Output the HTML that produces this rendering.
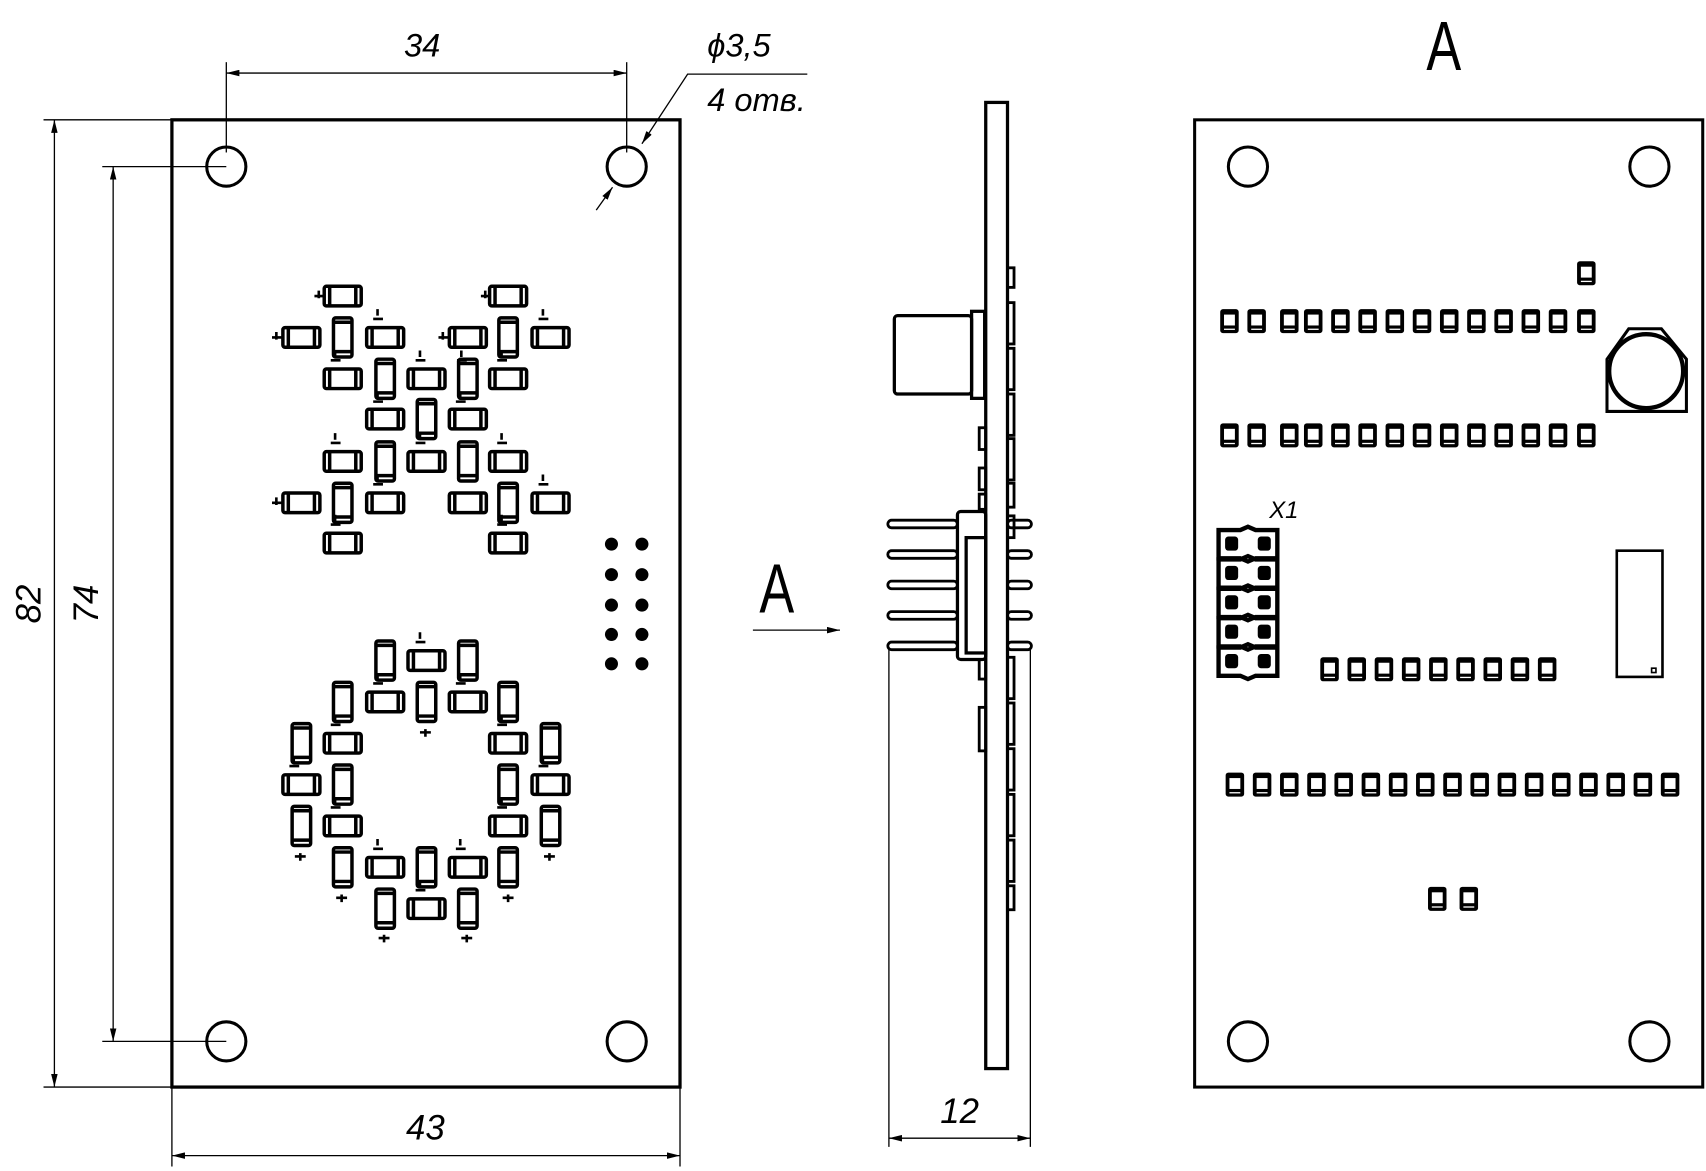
<!DOCTYPE html>
<html><head><meta charset="utf-8"><style>html,body{margin:0;padding:0;background:#fff}svg{display:block}text{font-family:"Liberation Sans","DejaVu Sans",sans-serif;font-style:italic;fill:#000}</style></head><body>
<svg width="1706" height="1171" viewBox="0 0 1568 1076" xmlns="http://www.w3.org/2000/svg">
<defs>
<g id="H" fill="none" stroke="#000" stroke-width="3.2"><rect x="-17" y="-9" width="34" height="18" rx="2"/><line x1="-12" y1="-9" x2="-12" y2="9"/><line x1="12" y1="-9" x2="12" y2="9"/></g>
<g id="V" fill="none" stroke="#000" stroke-width="3.2"><rect x="-8.5" y="-18" width="17" height="36" rx="2"/><line x1="-8.5" y1="-14" x2="8.5" y2="-14"/><line x1="-8.5" y1="13" x2="8.5" y2="13"/></g>
<g id="P"><rect x="-8.5" y="-11" width="17" height="22" rx="2.5" fill="#000"/><rect x="-5" y="-6" width="10" height="10" fill="#fff"/><line x1="-5" y1="7.5" x2="5" y2="7.5" stroke="#fff" stroke-width="1.2"/></g>
<g id="J"><path d="M-27,-13 h20 l7,-3 l7,3 h20 v26 h-20 l-7,3 l-7,-3 h-20 z" fill="none" stroke="#000" stroke-width="4"/><rect x="-21" y="-7" width="12" height="13" rx="3" fill="#000"/><rect x="9" y="-7" width="12" height="13" rx="3" fill="#000"/></g>
<marker id="ar" viewBox="0 0 12 6" refX="12" refY="3" markerWidth="12" markerHeight="6" orient="auto-start-reverse" markerUnits="userSpaceOnUse"><path d="M0,0 L12,3 L0,6 z" fill="#000"/></marker>
</defs>
<g fill="none" stroke="#000">
<rect x="158" y="110" width="467" height="889" stroke-width="3"/>
<g stroke-width="2.8"><circle cx="208" cy="153" r="18"/><circle cx="576" cy="153" r="18"/><circle cx="208" cy="957" r="18"/><circle cx="576" cy="957" r="18"/></g>
<g stroke-width="1.2">
<line x1="208" y1="57" x2="208" y2="140"/><line x1="576" y1="57" x2="576" y2="140"/>
<line x1="208" y1="67" x2="576" y2="67" marker-start="url(#ar)" marker-end="url(#ar)"/>
<line x1="40" y1="110" x2="158" y2="110"/><line x1="40" y1="999" x2="158" y2="999"/>
<line x1="50" y1="110" x2="50" y2="999" marker-start="url(#ar)" marker-end="url(#ar)"/>
<line x1="94" y1="153" x2="208" y2="153"/><line x1="94" y1="957" x2="208" y2="957"/>
<line x1="104" y1="153" x2="104" y2="957" marker-start="url(#ar)" marker-end="url(#ar)"/>
<line x1="158" y1="999" x2="158" y2="1072"/><line x1="625" y1="999" x2="625" y2="1072"/>
<line x1="158" y1="1062" x2="625" y2="1062" marker-start="url(#ar)" marker-end="url(#ar)"/>
<polyline points="742,68 632,68 590,132" marker-end="url(#ar)"/>
<line x1="548" y1="193" x2="563" y2="172" marker-end="url(#ar)"/>
</g>
</g>
<g fill="#000">
<circle cx="562" cy="500" r="6"/><circle cx="590" cy="500" r="6"/>
<circle cx="562" cy="528" r="6"/><circle cx="590" cy="528" r="6"/>
<circle cx="562" cy="556" r="6"/><circle cx="590" cy="556" r="6"/>
<circle cx="562" cy="583" r="6"/><circle cx="590" cy="583" r="6"/>
<circle cx="562" cy="610" r="6"/><circle cx="590" cy="610" r="6"/>
</g>
<use href="#H" x="315" y="272"/><use href="#H" x="467" y="272"/>
<use href="#H" x="277" y="310"/><use href="#V" x="315" y="310"/><use href="#H" x="354" y="310"/><use href="#H" x="430" y="310"/><use href="#V" x="467" y="310"/><use href="#H" x="506" y="310"/>
<use href="#H" x="315" y="348"/><use href="#V" x="354" y="348"/><use href="#H" x="392" y="348"/><use href="#V" x="430" y="348"/><use href="#H" x="467" y="348"/>
<use href="#H" x="354" y="385"/><use href="#V" x="392" y="385"/><use href="#H" x="430" y="385"/>
<use href="#H" x="315" y="424"/><use href="#V" x="354" y="424"/><use href="#H" x="392" y="424"/><use href="#V" x="430" y="424"/><use href="#H" x="467" y="424"/>
<use href="#H" x="277" y="462"/><use href="#V" x="315" y="462"/><use href="#H" x="354" y="462"/><use href="#H" x="430" y="462"/><use href="#V" x="467" y="462"/><use href="#H" x="506" y="462"/>
<use href="#H" x="315" y="499"/><use href="#H" x="467" y="499"/>
<use href="#V" x="354" y="607"/><use href="#H" x="392" y="607"/><use href="#V" x="430" y="607"/>
<use href="#V" x="315" y="645"/><use href="#H" x="354" y="645"/><use href="#V" x="392" y="645"/><use href="#H" x="430" y="645"/><use href="#V" x="467" y="645"/>
<use href="#V" x="277" y="683"/><use href="#H" x="315" y="683"/><use href="#H" x="467" y="683"/><use href="#V" x="506" y="683"/>
<use href="#H" x="277" y="721"/><use href="#V" x="315" y="721"/><use href="#V" x="467" y="721"/><use href="#H" x="506" y="721"/>
<use href="#V" x="277" y="759"/><use href="#H" x="315" y="759"/><use href="#H" x="467" y="759"/><use href="#V" x="506" y="759"/>
<use href="#V" x="315" y="797"/><use href="#H" x="354" y="797"/><use href="#V" x="392" y="797"/><use href="#H" x="430" y="797"/><use href="#V" x="467" y="797"/>
<use href="#V" x="354" y="835"/><use href="#H" x="392" y="835"/><use href="#V" x="430" y="835"/>
<g stroke="#000" stroke-width="2.4">
<path d="M289,272h9M293,267v7M442,272h9M446,267v7M250,310h9M254,305v7M403,310h9M407,305v7M250,462h9M254,457v7"/>
<path d="M271,787h10M276,784v7M309,825h10M314,822v7M348,862h10M353,859v7M424,862h10M429,859v7M462,825h10M467,822v7M500,787h10M505,784v7M386,673h10M391,670v7"/>
<path d="M304,331h9M308,328v-6M343,293h9M347,290v-6M382,331h9M386,328v-6M420,331h9M424,328v-6M457,331h9M461,328v-6M495,293h9M499,290v-6M343,369h9M347,366v-6M419,369h9M423,366v-6M304,407h9M308,404v-6M382,407h9M386,404v-6M457,407h9M461,404v-6M343,445h9M347,442v-6M495,445h9M499,442v-6M304,482h9M308,479v-6M457,482h9M461,479v-6"/>
<path d="M382,590h9M386,587v-6M343,628h9M347,625v-6M419,628h9M423,625v-6M304,666h9M308,663v-6M457,666h9M461,663v-6M266,704h9M270,701v-6M495,704h9M499,701v-6M304,742h9M308,739v-6M457,742h9M461,739v-6M343,780h9M347,777v-6M419,780h9M423,777v-6M382,818h9M386,815v-6"/>
</g>
<g fill="none" stroke="#000" stroke-width="3">
<rect x="906" y="94" width="20" height="888"/>
<rect x="822" y="290" width="71" height="72" rx="3"/>
<rect x="893" y="286" width="12" height="80"/>
<g stroke-width="2.6">
<rect x="926" y="246" width="6" height="18"/>
<rect x="926" y="278" width="6" height="38"/><rect x="926" y="320" width="6" height="38"/><rect x="926" y="362" width="6" height="38"/><rect x="926" y="403" width="6" height="38"/><rect x="926" y="444" width="6" height="22"/>
<rect x="926" y="474" width="6" height="20"/><rect x="926" y="604" width="6" height="38"/><rect x="926" y="646" width="6" height="38"/><rect x="926" y="688" width="6" height="38"/><rect x="926" y="730" width="6" height="38"/><rect x="926" y="772" width="6" height="38"/><rect x="926" y="814" width="6" height="22"/>
<rect x="900" y="393" width="6" height="20"/><rect x="900" y="430" width="6" height="20"/><rect x="900" y="454" width="6" height="14"/>
<rect x="900" y="650" width="6" height="40"/><rect x="900" y="606" width="6" height="18"/>
</g>
<rect x="880" y="470" width="26" height="136" rx="3"/>
<rect x="888" y="494" width="18" height="106"/>
<g stroke-width="2.6"><rect x="816" y="478" width="64" height="7" rx="3.5"/><rect x="816" y="506" width="64" height="7" rx="3.5"/><rect x="816" y="534" width="64" height="7" rx="3.5"/><rect x="816" y="562" width="64" height="7" rx="3.5"/><rect x="816" y="590" width="64" height="7" rx="3.5"/>
<rect x="926" y="478" width="22" height="7" rx="3.5"/><rect x="926" y="506" width="22" height="7" rx="3.5"/><rect x="926" y="534" width="22" height="7" rx="3.5"/><rect x="926" y="562" width="22" height="7" rx="3.5"/><rect x="926" y="590" width="22" height="7" rx="3.5"/></g>
</g>
<g stroke="#000" stroke-width="1.2" fill="none">
<line x1="817" y1="597" x2="817" y2="1054"/><line x1="947" y1="597" x2="947" y2="1054"/>
<line x1="817" y1="1046" x2="947" y2="1046" marker-start="url(#ar)" marker-end="url(#ar)"/>
<line x1="692" y1="579" x2="772" y2="579" marker-end="url(#ar)"/>
</g>
<g fill="none" stroke="#000" stroke-width="2.8">
<rect x="1098" y="110" width="467" height="889"/>
<circle cx="1147" cy="153" r="18"/><circle cx="1516" cy="153" r="18"/><circle cx="1147" cy="957" r="18"/><circle cx="1516" cy="957" r="18"/>
<polygon points="1497,302 1527,302 1550,330 1550,378 1477,378 1477,330"/>
<circle cx="1513" cy="341" r="34" stroke-width="4"/>
<rect x="1486" y="506" width="42" height="116" stroke-width="2.4"/>
<rect x="1518" y="614" width="4" height="4" stroke-width="1.5"/>
</g>
<g>
<use href="#P" x="1458" y="251"/>
<use href="#P" x="1130" y="295"/><use href="#P" x="1155" y="295"/><use href="#P" x="1185" y="295"/><use href="#P" x="1207" y="295"/><use href="#P" x="1232" y="295"/><use href="#P" x="1257" y="295"/><use href="#P" x="1282" y="295"/><use href="#P" x="1307" y="295"/><use href="#P" x="1332" y="295"/><use href="#P" x="1357" y="295"/><use href="#P" x="1382" y="295"/><use href="#P" x="1407" y="295"/><use href="#P" x="1432" y="295"/><use href="#P" x="1458" y="295"/>
<use href="#P" x="1130" y="400"/><use href="#P" x="1155" y="400"/><use href="#P" x="1185" y="400"/><use href="#P" x="1207" y="400"/><use href="#P" x="1232" y="400"/><use href="#P" x="1257" y="400"/><use href="#P" x="1282" y="400"/><use href="#P" x="1307" y="400"/><use href="#P" x="1332" y="400"/><use href="#P" x="1357" y="400"/><use href="#P" x="1382" y="400"/><use href="#P" x="1407" y="400"/><use href="#P" x="1432" y="400"/><use href="#P" x="1458" y="400"/>
<use href="#P" x="1222" y="615"/><use href="#P" x="1247" y="615"/><use href="#P" x="1272" y="615"/><use href="#P" x="1297" y="615"/><use href="#P" x="1322" y="615"/><use href="#P" x="1347" y="615"/><use href="#P" x="1372" y="615"/><use href="#P" x="1397" y="615"/><use href="#P" x="1422" y="615"/>
<use href="#P" x="1135" y="721"/><use href="#P" x="1160" y="721"/><use href="#P" x="1185" y="721"/><use href="#P" x="1210" y="721"/><use href="#P" x="1235" y="721"/><use href="#P" x="1260" y="721"/><use href="#P" x="1285" y="721"/><use href="#P" x="1310" y="721"/><use href="#P" x="1335" y="721"/><use href="#P" x="1360" y="721"/><use href="#P" x="1385" y="721"/><use href="#P" x="1410" y="721"/><use href="#P" x="1435" y="721"/><use href="#P" x="1460" y="721"/><use href="#P" x="1485" y="721"/><use href="#P" x="1510" y="721"/><use href="#P" x="1535" y="721"/>
<use href="#P" x="1321" y="826"/><use href="#P" x="1350" y="826"/>
<use href="#J" x="1147" y="500"/><use href="#J" x="1147" y="527"/><use href="#J" x="1147" y="554"/><use href="#J" x="1147" y="581"/><use href="#J" x="1147" y="608"/>
</g>
<text x="388" y="52" font-size="30" text-anchor="middle">34</text>
<text x="650" y="52" font-size="30">ϕ3,5</text>
<text x="650" y="102" font-size="30">4 отв.</text>
<text transform="translate(37,555) rotate(-90)" font-size="32" text-anchor="middle">82</text>
<text transform="translate(90,555) rotate(-90)" font-size="32" text-anchor="middle">74</text>
<text x="391" y="1047" font-size="32" text-anchor="middle">43</text>
<text x="882" y="1032" font-size="32" text-anchor="middle">12</text>
<text x="1180" y="476" font-size="22" text-anchor="middle">X1</text>
<text x="714" y="563" font-size="64" text-anchor="middle" style="font-style:normal" transform="translate(714,563) scale(0.75,1) translate(-714,-563)">A</text>
<text x="1327" y="64" font-size="64" text-anchor="middle" style="font-style:normal" transform="translate(1327,64) scale(0.75,1) translate(-1327,-64)">A</text>
</svg>
</body></html>
